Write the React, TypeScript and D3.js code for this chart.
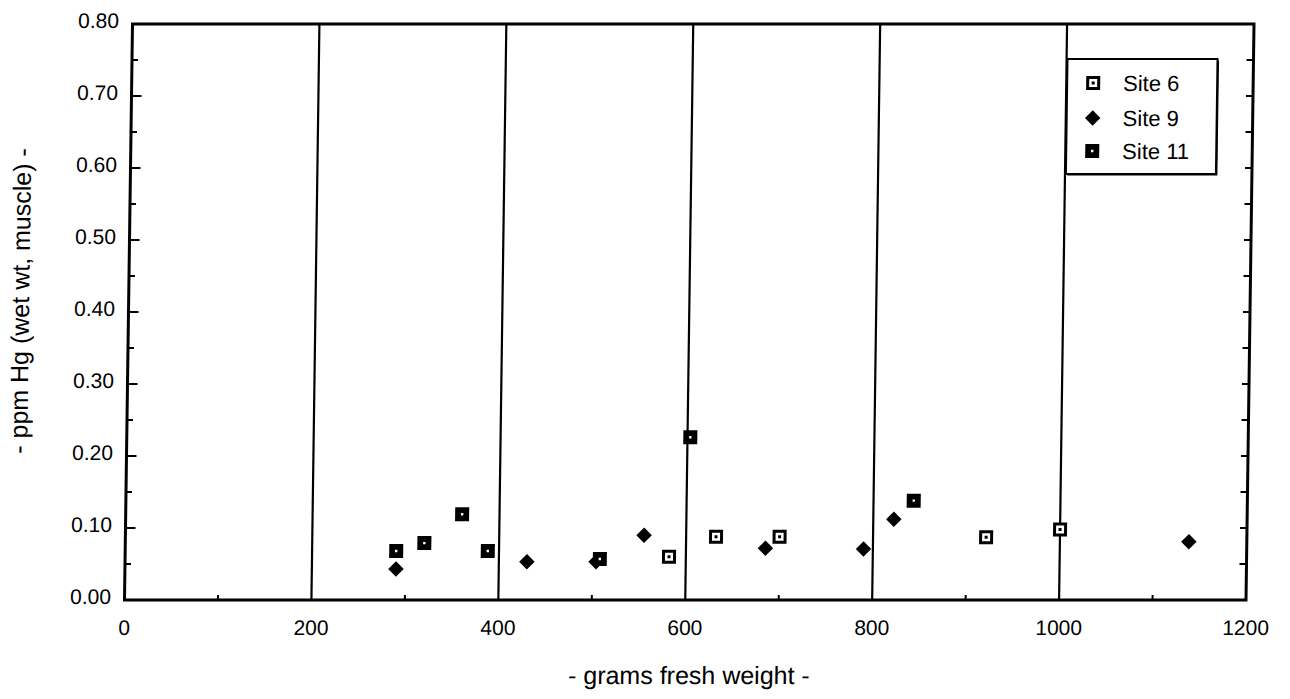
import React from "react";
import * as d3 from "d3";

const site6X = [582, 632, 700, 921, 1000];
const site6Y = [0.06, 0.088, 0.088, 0.087, 0.098];
const site9X = [290, 430, 504, 555, 685, 790, 822, 1138];
const site9Y = [0.043, 0.053, 0.053, 0.09, 0.072, 0.071, 0.112, 0.081];
const site11X = [290, 320, 360, 388, 508, 603, 843];
const site11Y = [0.068, 0.079, 0.119, 0.068, 0.057, 0.226, 0.138];

const xTicks = [0, 200, 400, 600, 800, 1000, 1200];
const xMinor = [100, 300, 500, 700, 900, 1100];
const yTicks = [0, 0.1, 0.2, 0.3, 0.4, 0.5, 0.6, 0.7, 0.8];
const yMinor = [0.05, 0.15, 0.25, 0.35, 0.45, 0.55, 0.65, 0.75];
const gridX = [200, 400, 600, 800, 1000];
const legendLabels = ["Site 6", "Site 9", "Site 11"];

const FONT = "'Liberation Sans', Arial, Helvetica, sans-serif";

const x = d3.scaleLinear().domain([0, 1200]).range([124.5, 1246]);
const y = d3.scaleLinear().domain([0, 0.8]).range([600, 24]);

const K = 8 / 576;

const diamondPath = d3.symbol(d3.symbolSquare, 120)() as string;

function Site6({ cx, cy }: { cx: number; cy: number }) {
  return (
    <g transform={`translate(${cx},${cy})`}>
      <rect x={-5.5} y={-5.5} width={11} height={11} fill="#fff" stroke="#000" strokeWidth={3} />
      <rect x={-1.5} y={-1.5} width={3} height={3} fill="#000" />
    </g>
  );
}
function Site9({ cx, cy }: { cx: number; cy: number }) {
  return <path d={diamondPath} transform={`translate(${cx},${cy}) rotate(45)`} fill="#000" />;
}
function Site11({ cx, cy }: { cx: number; cy: number }) {
  return (
    <g transform={`translate(${cx},${cy})`}>
      <rect x={-7} y={-7} width={14} height={14} fill="#000" />
      <rect x={-1.2} y={-1.2} width={2.4} height={2.4} fill="#fff" />
    </g>
  );
}

export default function App() {
  const legendX = 1060;
  const legendY = 59;
  const rows = [83, 118, 151];
  return (
    <div style={{ position: "absolute", left: 0, top: 0 }}>
      <svg width={1290} height={699} style={{ display: "block", background: "#fff" }}>
        <rect width={1290} height={699} fill="#fff" />
        <g transform={`matrix(1,0,${-K},1,${K * 600},0)`} fontFamily={FONT}>
          {gridX.map((v) => (
            <line key={`g${v}`} x1={x(v)} x2={x(v)} y1={y(0)} y2={y(0.8)} stroke="#000" strokeWidth={2.2} />
          ))}
          {xMinor.map((v) => (
            <line key={`xm${v}`} x1={x(v)} x2={x(v)} y1={y(0)} y2={y(0) - 5} stroke="#000" strokeWidth={2} />
          ))}
          {yTicks.map((v) => (
            <line key={`yl${v}`} x1={x(0)} x2={x(0) + 10} y1={y(v)} y2={y(v)} stroke="#000" strokeWidth={2} />
          ))}
          {yMinor.map((v) => (
            <line key={`ylm${v}`} x1={x(0)} x2={x(0) + 6} y1={y(v)} y2={y(v)} stroke="#000" strokeWidth={2} />
          ))}
          {[...yTicks, ...yMinor].map((v) => (
            <line key={`yr${v}`} x1={x(1200)} x2={x(1200) - 7} y1={y(v)} y2={y(v)} stroke="#000" strokeWidth={2} />
          ))}
          <rect x={x(0)} y={y(0.8)} width={x(1200) - x(0)} height={y(0) - y(0.8)} fill="none" stroke="#000" strokeWidth={3} />
          {xTicks.map((v) => (
            <text key={`xt${v}`} x={x(v)} y={635} textAnchor="middle" fontSize={21} fill="#000">
              {String(v)}
            </text>
          ))}
          {yTicks.map((v) => (
            <text key={`yt${v}`} x={111} y={y(v) + 4} textAnchor="end" fontSize={21} fill="#000">
              {v.toFixed(2)}
            </text>
          ))}
          <text x={690} y={684} textAnchor="middle" fontSize={25} fill="#000">
            - grams fresh weight -
          </text>
          <text transform={`translate(25,301) rotate(-90)`} textAnchor="middle" fontSize={25} fill="#000">
            - ppm Hg (wet wt, muscle) -
          </text>
          {site9X.map((v, i) => (
            <Site9 key={`s9${i}`} cx={x(v)} cy={y(site9Y[i])} />
          ))}
          {site6X.map((v, i) => (
            <Site6 key={`s6${i}`} cx={x(v)} cy={y(site6Y[i])} />
          ))}
          {site11X.map((v, i) => (
            <Site11 key={`s11${i}`} cx={x(v)} cy={y(site11Y[i])} />
          ))}
          <rect x={legendX + 1.5} y={legendY + 1.5} width={150} height={115} fill="#000" />
          <rect x={legendX} y={legendY} width={150} height={115} fill="#fff" stroke="#000" strokeWidth={2} />
          <Site6 cx={legendX + 26} cy={rows[0]} />
          <Site9 cx={legendX + 26} cy={rows[1]} />
          <Site11 cx={legendX + 26} cy={rows[2]} />
          {legendLabels.map((l, i) => (
            <text key={l} x={legendX + 56} y={rows[i] + 8} fontSize={22} fill="#000">
              {l}
            </text>
          ))}
        </g>
      </svg>
    </div>
  );
}
